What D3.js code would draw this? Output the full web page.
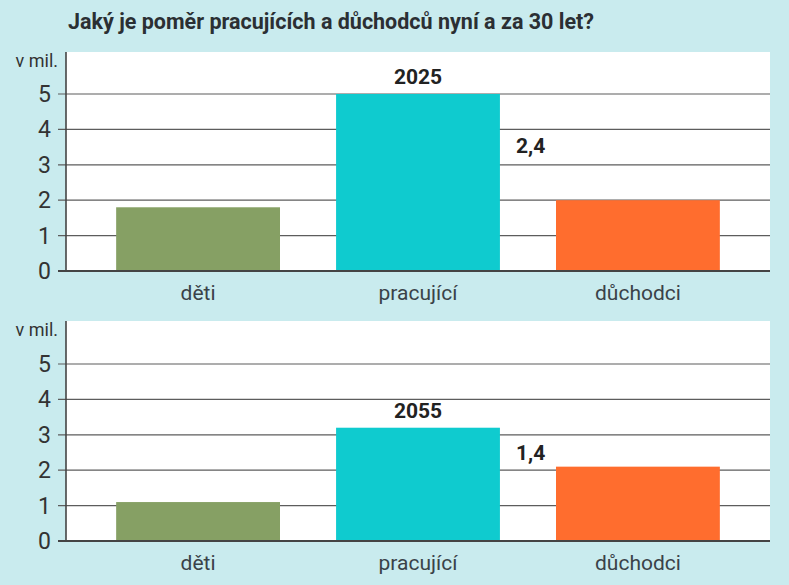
<!DOCTYPE html>
<html>
<head>
<meta charset="utf-8">
<script src="https://cdn.jsdelivr.net/npm/d3@7"></script>
<style>
  body { margin: 0; background: #c9ebee; }
  text { font-family: "Liberation Sans Narrow", "Roboto", sans-serif; }
</style>
</head>
<body>
<script>
// Data
var title = 'Jaký je poměr pracujících a důchodců nyní a za 30 let?';
var categories = ['děti', 'pracující', 'důchodci'];
var values2025 = [1.8, 5.0, 2.0];
var values2055 = [1.1, 3.2, 2.1];
var years = ['2025', '2055'];
var ratios = ['2,4', '1,4'];
var yTicks = [0, 1, 2, 3, 4, 5];
var unitLabel = 'v mil.';
var colors = ['#86a064', '#0fcbcf', '#ff6d2e'];

var width = 789, height = 585;

var svg = d3.select('body')
    .append('svg')
    .attr('width', width)
    .attr('height', height)
    .style('display', 'block');

svg.append('rect')
    .attr('width', width)
    .attr('height', height)
    .style('fill', '#c9ebee');

svg.append('text')
    .attr('x', 68)
    .attr('y', 29)
    .style('font-size', '21.5px')
    .style('font-weight', 'bold')
    .style('fill', '#2b2f33')
    .text(title);

var x = d3.scaleBand()
    .domain(categories)
    .range([88, 748])
    .paddingInner(0.255)
    .paddingOuter(0.128);

// one panel per year
var panels = [
    {values: values2025, year: years[0], ratio: ratios[0], top: 52, base: 271, ratioY: 3.33},
    {values: values2055, year: years[1], ratio: ratios[1], top: 321, base: 541, ratioY: 2.29}
];

panels.forEach(function(p){
    var y = d3.scaleLinear()
        .domain([0, 5])
        .range([p.base, p.base - 177]);

    var g = svg.append('g');

    g.append('rect')
        .attr('x', 66)
        .attr('y', p.top)
        .attr('width', 770 - 66)
        .attr('height', p.base - p.top)
        .style('fill', '#fff');

    // gridlines
    g.selectAll('.grid')
        .data(yTicks.slice(1))
        .enter()
        .append('line')
        .attr('x1', 58)
        .attr('x2', 770)
        .attr('y1', function(d){ return y(d); })
        .attr('y2', function(d){ return y(d); })
        .style('stroke', '#5c5c5c')
        .style('stroke-width', 1.2);

    g.selectAll('.bar')
        .data(p.values)
        .enter()
        .append('rect')
        .attr('x', function(d, i){ return x(categories[i]); })
        .attr('width', x.bandwidth())
        .attr('y', function(d){ return y(d); })
        .attr('height', function(d){ return y(0) - y(d); })
        .style('fill', function(d, i){ return colors[i]; });

    // axes lines
    g.append('line')
        .attr('x1', 66).attr('x2', 66)
        .attr('y1', p.top).attr('y2', p.base)
        .style('stroke', '#444')
        .style('stroke-width', 1.6);
    g.append('line')
        .attr('x1', 58).attr('x2', 770)
        .attr('y1', p.base).attr('y2', p.base)
        .style('stroke', '#444')
        .style('stroke-width', 1.8);

    g.selectAll('.tick')
        .data(yTicks)
        .enter()
        .append('text')
        .attr('x', 51)
        .attr('y', function(d){ return y(d) + 8; })
        .attr('text-anchor', 'end')
        .style('font-size', '23px')
        .style('fill', '#333')
        .text(function(d){ return d; });

    g.append('text')
        .attr('x', 58)
        .attr('y', p.top + 15)
        .attr('text-anchor', 'end')
        .style('font-size', '18px')
        .style('fill', '#333')
        .text(unitLabel);

    g.selectAll('.cat')
        .data(categories)
        .enter()
        .append('text')
        .attr('x', function(d){ return x(d) + x.bandwidth() / 2; })
        .attr('y', p.base + 29)
        .attr('text-anchor', 'middle')
        .style('font-size', '21px')
        .style('fill', '#3a4248')
        .text(function(d){ return d; });

    g.append('text')
        .attr('x', x(categories[1]) + x.bandwidth() / 2)
        .attr('y', y(p.values[1]) - 10)
        .attr('text-anchor', 'middle')
        .style('font-size', '21px')
        .style('font-weight', 'bold')
        .style('fill', '#222')
        .text(p.year);

    g.append('text')
        .attr('x', x(categories[1]) + x.bandwidth() + 16)
        .attr('y', y(p.ratioY))
        .style('font-size', '21px')
        .style('font-weight', 'bold')
        .style('fill', '#222')
        .text(p.ratio);
});
</script>
</body>
</html>
